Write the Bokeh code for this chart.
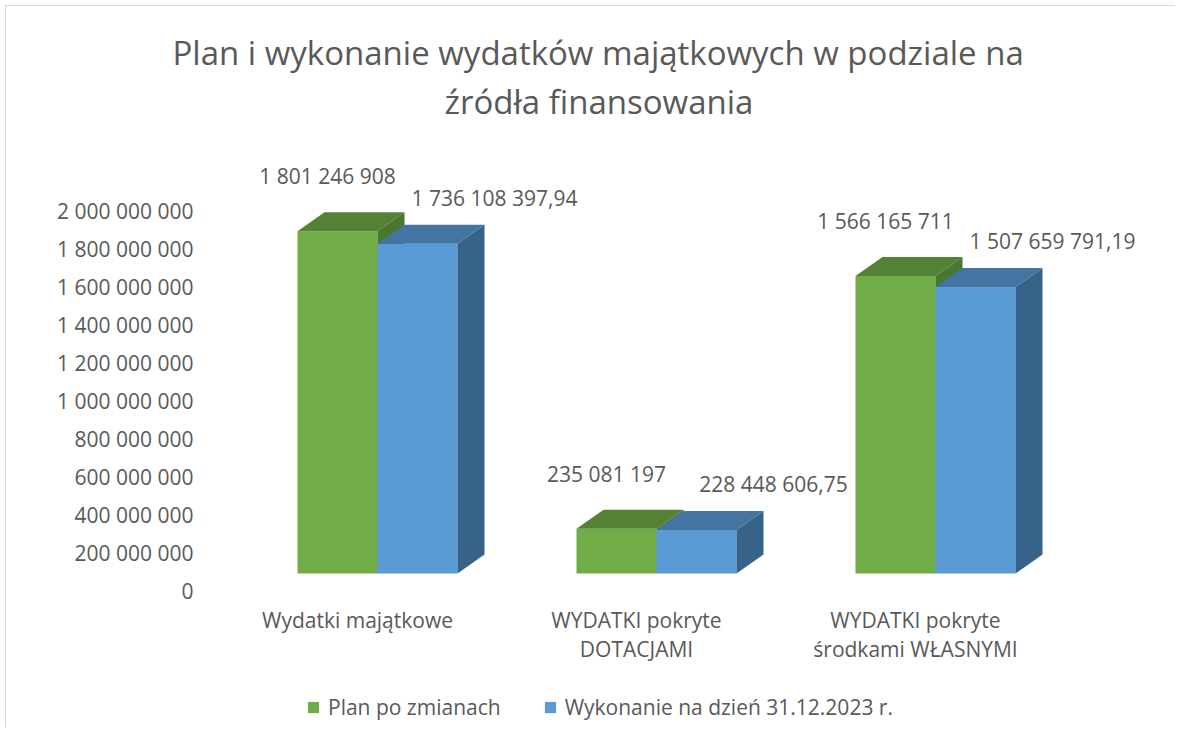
from bokeh.plotting import figure
from bokeh.models import Range1d, FixedTicker, Title, Legend, LegendItem, ColumnDataSource
from bokeh.core.properties import value
from bokeh.embed import file_html
from bokeh.resources import INLINE

# ---------------- data ----------------
categories = ["Wydatki majątkowe", "WYDATKI pokryte\nDOTACJAMI", "WYDATKI pokryte\nśrodkami WŁASNYMI"]
series_names = ["Plan po zmianach", "Wykonanie na dzień 31.12.2023 r."]
plan = [1801246908, 235081197, 1566165711]
wykonanie = [1736108397.94, 228448606.75, 1507659791.19]
y_ticks = [0, 200000000, 400000000, 600000000, 800000000, 1000000000,
           1200000000, 1400000000, 1600000000, 1800000000, 2000000000]
title_lines = ["Plan i wykonanie wydatków majątkowych w podziale na", "źródła finansowania"]

# ---------------- layout / style ----------------
FONT = "Open Sans"
TXT = "#595959"
FS = "21px"
OFF = 6                                    # canvas origin on the page
W, H = 1170, 722
FL, FR, FT, FB = 200 - OFF, 1158 - OFF, 123 - OFF, 722 - OFF   # frame edges (canvas px)
ZERO_Y = 590 - OFF                         # canvas y of value 0
UX = 279.0                                 # px per category unit
UY = 190.0                                 # px per 1e9
X0 = 377 - OFF                             # canvas x of first group centre

def px(v):   # px -> x units
    return v / UX

def py(v):   # px -> y units
    return v * 1e9 / UY

x_range = Range1d(-px(X0 - FL), px(FR - X0))
y_range = Range1d(-py(FB - ZERO_Y), py(ZERO_Y - FT))

p = figure(width=W, height=H, x_range=x_range, y_range=y_range,
           output_backend="svg", toolbar_location=None, x_axis_location=None,
           min_border_left=FL, min_border_right=W - FR, min_border_top=FT,
           min_border_bottom=H - FB, title=None)
p.outline_line_color = None
p.xgrid.visible = False
p.ygrid.visible = False
p.background_fill_color = "white"
p.border_fill_color = "white"
p.styles = {"margin-left": "5px", "margin-top": "5px",
            "border-left": "1px solid #d9d9d9", "border-top": "1px solid #d9d9d9"}

ax = p.yaxis[0]
ax.ticker = FixedTicker(ticks=y_ticks)
ax.major_label_overrides = {t: f"{t:,}".replace(",", " ") for t in y_ticks}
ax.axis_line_color = None
ax.major_tick_line_color = None
ax.minor_tick_line_color = None
ax.major_label_standoff = 1
ax.major_label_text_font = FONT
ax.major_label_text_font_size = FS
ax.major_label_text_color = TXT

# titles (first added sits nearest the frame); left-aligned with offsets to centre at page x~598
title_offsets = [-28, 244]
title_standoffs = [4, 0]
for t, off, so in reversed(list(zip(title_lines, title_offsets, title_standoffs))):
    p.add_layout(Title(text=t, align="left", offset=off, text_font=FONT,
                       text_font_size="33px", text_font_style="normal",
                       text_color=TXT, standoff=so), "above")

# 3D bars
BW = px(80)
B0 = py(17)
DX = px(27)
DY = py(19)

colors = [
    ("#70AD47", "#548235", "#4A772E"),
    ("#5B9BD5", "#4474A2", "#386389"),
]
series = [plan, wykonanie]
fronts = []
for s, vals in enumerate(series):
    front_c, top_c, side_c = colors[s]
    lefts = [i - BW + s * BW for i in range(len(vals))]
    rights = [l + BW for l in lefts]
    tops = [B0 + v for v in vals]
    src = ColumnDataSource(dict(left=lefts, right=rights, top=tops, bottom=[B0] * len(vals)))
    fr = p.quad(left="left", right="right", top="top", bottom="bottom", source=src,
                fill_color=front_c, line_color=None)
    fronts.append(fr)
    top_xs = [[l, r, r + DX, l + DX] for l, r in zip(lefts, rights)]
    top_ys = [[t, t, t + DY, t + DY] for t in tops]
    p.patches(top_xs, top_ys, fill_color=top_c, line_color=None)
    side_xs = [[r, r, r + DX, r + DX] for r in rights]
    side_ys = [[B0, t, t + DY, B0 + DY] for t in tops]
    p.patches(side_xs, side_ys, fill_color=side_c, line_color=None)

# data labels
plan_lbl = [f"{v:,.0f}".replace(",", " ") for v in plan]
wyk_lbl = [f"{v:,.2f}".replace(",", " ").replace(".", ",") for v in wykonanie]
lbl_dx = [px(-10), px(77)]
lbl_dy = [py(55), py(46)]
for s, (vals, labels) in enumerate(zip(series, [plan_lbl, wyk_lbl])):
    xs = [i - BW / 2 + s * BW + lbl_dx[s] for i in range(len(vals))]
    ys = [B0 + v + lbl_dy[s] for v in vals]
    p.text(xs, ys, text=labels, text_align="center", text_baseline="middle",
           text_font=value(FONT), text_font_size=FS, text_color=TXT)

# category labels
for i, c in enumerate(categories):
    lines = c.split("\n")
    for k, ln in enumerate(lines):
        p.text([i - px(20)], [-py(29 + 29 * k)], text=[ln], text_align="center",
               text_baseline="middle", text_font=value(FONT), text_font_size=FS,
               text_color=TXT)

legend = Legend(items=[LegendItem(label=series_names[0], renderers=[fronts[0]]),
                       LegendItem(label=series_names[1], renderers=[fronts[1]])],
                orientation="horizontal", location=(106, 1), border_line_color=None,
                background_fill_alpha=0, label_text_font=FONT, label_text_font_size=FS,
                label_text_color=TXT, glyph_width=14, glyph_height=14, spacing=42,
                label_standoff=8, padding=0, margin=0, label_height=20)
p.add_layout(legend)

open("out.html", "w").write(file_html(p, INLINE))
